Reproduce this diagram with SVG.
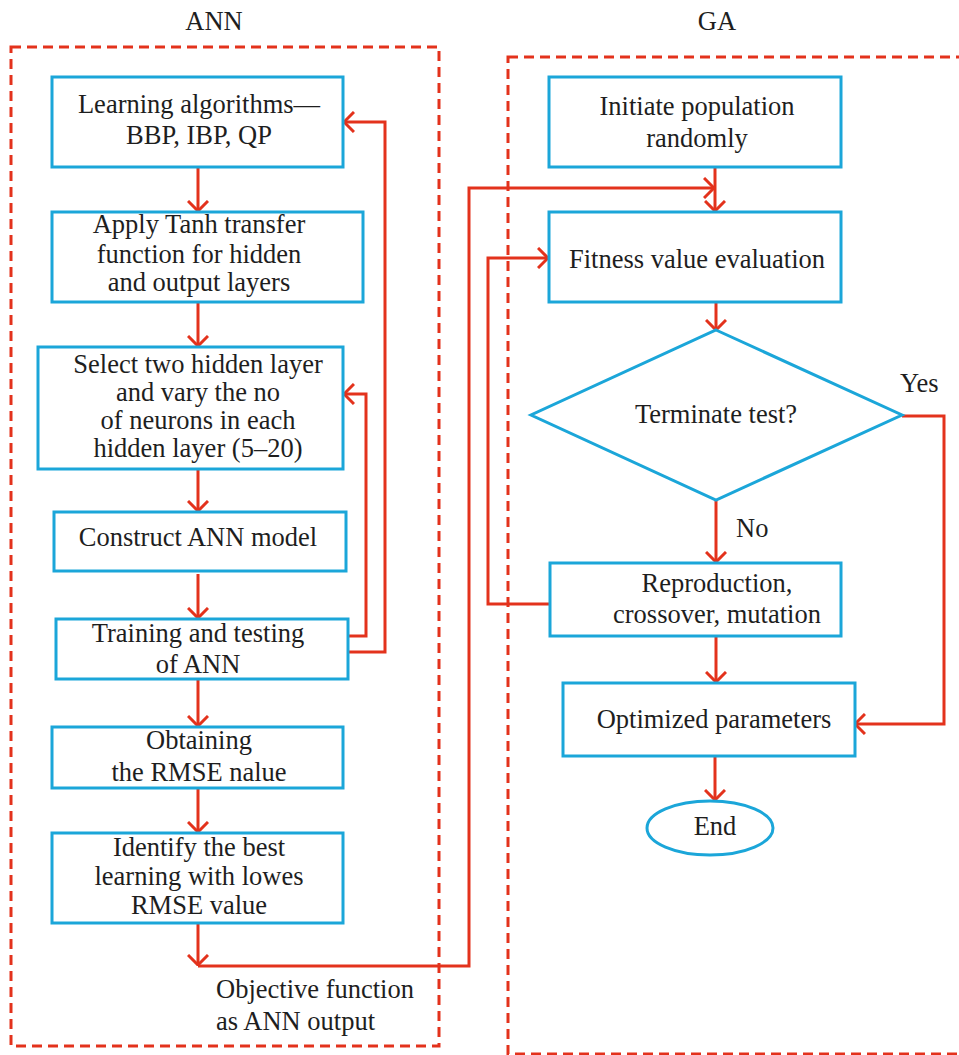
<svg xmlns="http://www.w3.org/2000/svg" width="959" height="1055" viewBox="0 0 959 1055">
<defs>
<style>
.box{fill:#fff;stroke:#1ba6d9;stroke-width:3}
.dash{fill:none;stroke:#e3321c;stroke-width:3;stroke-dasharray:10 6}
.ln{fill:none;stroke:#e3321c;stroke-width:3}
.t{font-family:"Liberation Serif","Times New Roman",serif;font-size:26.5px;fill:#1e1e1e;text-anchor:middle}
.s{text-anchor:start}
</style>
<marker id="ah" viewBox="0 0 12 22" refX="11" refY="11" markerWidth="12" markerHeight="22" markerUnits="userSpaceOnUse" orient="auto">
<path d="M1,1 L11,11 L1,21" fill="none" stroke="#e3321c" stroke-width="3"/>
</marker>
</defs>
<rect width="959" height="1055" fill="#fff"/>
<g id="containers">
<rect class="dash" x="11" y="47" width="428" height="999"/>
<rect class="dash" x="508" y="57" width="470" height="997"/>
<text class="t" x="214" y="30">ANN</text>
<text class="t" x="717" y="30">GA</text>
</g>
<g id="connectors">
<line class="ln" x1="198" y1="167" x2="198" y2="211" marker-end="url(#ah)"/>
<line class="ln" x1="198" y1="302" x2="198" y2="346" marker-end="url(#ah)"/>
<line class="ln" x1="198" y1="469" x2="198" y2="511" marker-end="url(#ah)"/>
<line class="ln" x1="198" y1="574" x2="198" y2="618" marker-end="url(#ah)"/>
<line class="ln" x1="198" y1="679" x2="198" y2="726" marker-end="url(#ah)"/>
<line class="ln" x1="198" y1="788" x2="198" y2="832" marker-end="url(#ah)"/>
<line class="ln" x1="198" y1="923" x2="198" y2="965" marker-end="url(#ah)"/>
<polyline class="ln" points="348,636 366,636 366,394 344,394" marker-end="url(#ah)"/>
<polyline class="ln" points="348,652 385,652 385,122 344,122" marker-end="url(#ah)"/>
<polyline class="ln" points="198,966 469,966 469,188 714,188" marker-end="url(#ah)"/>
<line class="ln" x1="715" y1="167" x2="715" y2="211" marker-end="url(#ah)"/>
<line class="ln" x1="716" y1="302" x2="716" y2="330" marker-end="url(#ah)"/>
<polyline class="ln" points="549,604 488,604 488,258 548,258" marker-end="url(#ah)"/>
<line class="ln" x1="716" y1="500" x2="716" y2="562" marker-end="url(#ah)"/>
<polyline class="ln" points="902,416 944,416 944,724 855,724" marker-end="url(#ah)"/>
<line class="ln" x1="716" y1="636" x2="716" y2="682" marker-end="url(#ah)"/>
<line class="ln" x1="715" y1="756" x2="715" y2="800" marker-end="url(#ah)"/>
<text class="t s" x="900" y="392">Yes</text>
<text class="t s" x="736" y="537">No</text>
<text class="t s" x="216" y="998">Objective function</text>
<text class="t s" x="216" y="1030">as ANN output</text>
</g>
<g id="n-learning">
<rect class="box" x="52" y="77" width="291" height="90"/>
<text class="t" x="199" y="113">Learning algorithms—</text>
<text class="t" x="199" y="144">BBP, IBP, QP</text>
</g>
<g id="n-tanh">
<rect class="box" x="52" y="212" width="311" height="90"/>
<text class="t" x="199" y="233">Apply Tanh transfer</text>
<text class="t" x="199" y="263">function for hidden</text>
<text class="t" x="199" y="291">and output layers</text>
</g>
<g id="n-select">
<rect class="box" x="38" y="347" width="305" height="122"/>
<text class="t" x="198" y="373">Select two hidden layer</text>
<text class="t" x="198" y="401">and vary the no</text>
<text class="t" x="198" y="429">of neurons in each</text>
<text class="t" x="198" y="457">hidden layer (5–20)</text>
</g>
<g id="n-construct">
<rect class="box" x="54" y="512" width="292" height="59"/>
<text class="t" x="198" y="546">Construct ANN model</text>
</g>
<g id="n-training">
<rect class="box" x="56" y="619" width="292" height="60"/>
<text class="t" x="198" y="642">Training and testing</text>
<text class="t" x="198" y="673">of ANN</text>
</g>
<g id="n-rmse">
<rect class="box" x="52" y="727" width="291" height="61"/>
<text class="t" x="199" y="749">Obtaining</text>
<text class="t" x="199" y="781">the RMSE nalue</text>
</g>
<g id="n-best">
<rect class="box" x="52" y="833" width="291" height="90"/>
<text class="t" x="199" y="856">Identify the best</text>
<text class="t" x="199" y="885">learning with lowes</text>
<text class="t" x="199" y="914">RMSE value</text>
</g>
<g id="n-init">
<rect class="box" x="549" y="77" width="292" height="90"/>
<text class="t" x="697" y="115">Initiate population</text>
<text class="t" x="697" y="147">randomly</text>
</g>
<g id="n-fitness">
<rect class="box" x="549" y="212" width="292" height="90"/>
<text class="t" x="697" y="268">Fitness value evaluation</text>
</g>
<g id="n-terminate">
<polygon class="box" points="716,330 902,415 716,500 531,415"/>
<text class="t" x="716" y="423">Terminate test?</text>
</g>
<g id="n-repro">
<rect class="box" x="550" y="563" width="291" height="73"/>
<text class="t" x="717" y="592">Reproduction,</text>
<text class="t" x="717" y="623">crossover, mutation</text>
</g>
<g id="n-opt">
<rect class="box" x="563" y="683" width="292" height="73"/>
<text class="t" x="714" y="728">Optimized parameters</text>
</g>
<g id="n-end">
<ellipse class="box" cx="710" cy="828" rx="63" ry="27"/>
<text class="t" x="715" y="835">End</text>
</g>
</svg>
